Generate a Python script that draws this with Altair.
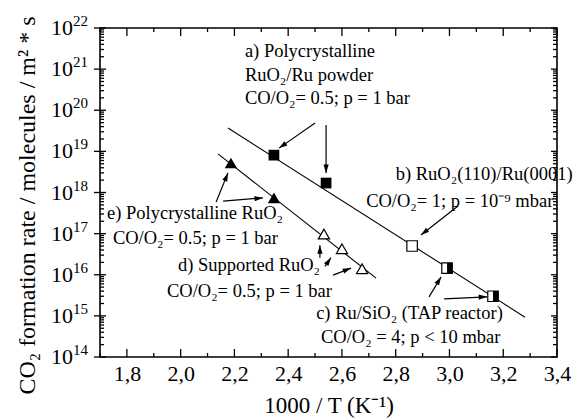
import math
import altair as alt
import pandas as pd

FONT = "'Times New Roman', 'Liberation Serif', Tinos, serif"
W, H = 457, 329
X_DOMAIN = [1.7, 3.4]
Y_DOMAIN = [1e14, 1e22]

# ---- data series ----
a_x = [2.347, 2.541]
a_y = [8.1e18, 1.7e18]
b_x = [2.861]
b_y = [5.0e16]
c_x = [2.991, 3.162]
c_y = [1.45e16, 3.0e15]
d_x = [2.533, 2.600, 2.675]
d_y = [9.8e16, 4.3e16, 1.4e16]
e_x = [2.187, 2.347]
e_y = [5.2e18, 7.4e17]

# fitted lines (end points)
line1_x = [2.176, 3.281]
line1_y = [3.7e19, 9.3e14]
line2_x = [2.139, 2.727]
line2_y = [8.7e18, 8.3e15]

# arrows: tail -> tip
arrow_x1 = [2.500, 2.541, 2.132, 2.158, 2.518, 2.537, 2.567, 3.032, 2.924, 2.980]
arrow_y1 = [4.9e19, 4.4e19, 5.9e17, 6.2e17, 2.6e16, 1.6e16, 9.8e15, 4.7e17, 2.9e15, 2.6e15]
arrow_x2 = [2.366, 2.541, 2.176, 2.306, 2.518, 2.559, 2.634, 2.894, 2.969, 3.140]
arrow_y2 = [1.2e19, 3.0e18, 3.0e18, 7.4e17, 5.2e16, 2.6e16, 1.45e16, 9.3e16, 8.9e15, 2.9e15]

# annotation texts (left-aligned, one entry per line)
ann_text = [
    "a) Polycrystalline", "RuO₂/Ru powder", "CO/O₂= 0.5; p = 1 bar",
    "b) RuO₂(110)/Ru(0001)", "CO/O₂= 1; p = 10⁻⁹ mbar",
    "e) Polycrystalline RuO₂", "CO/O₂= 0.5; p = 1 bar",
    "d) Supported RuO₂", "CO/O₂= 0.5; p = 1 bar",
    "c) Ru/SiO₂ (TAP reactor)", "CO/O₂ = 4; p < 10 mbar",
]
ann_x = [2.239, 2.239, 2.239, 2.800, 2.690, 1.726, 1.748, 1.990, 1.949, 2.504, 2.522]
ann_y = [10**21.44, 10**20.86, 10**20.30, 10**18.45, 10**17.80,
         10**17.50, 10**16.89, 10**16.24, 10**15.60, 10**15.07, 10**14.49]

# ticks
x_major = [1.8, 2.0, 2.2, 2.4, 2.6, 2.8, 3.0, 3.2, 3.4]
x_minor = [1.7, 1.9, 2.1, 2.3, 2.5, 2.7, 2.9, 3.1, 3.3]
y_exps = [14, 15, 16, 17, 18, 19, 20, 21, 22]
y_minor = [m * 10.0**e for e in range(14, 22) for m in range(2, 10)]

# ---- helpers ----
xs = alt.Scale(domain=X_DOMAIN, nice=False, zero=False)
ys = alt.Scale(type="log", domain=Y_DOMAIN, nice=False)


def X(f, **kw):
    return alt.X(f, type="quantitative", scale=xs, **kw)


def Y(f, **kw):
    return alt.Y(f, type="quantitative", scale=ys, **kw)


def px(x):
    return (x - X_DOMAIN[0]) / (X_DOMAIN[1] - X_DOMAIN[0]) * W


def py(y):
    return (math.log10(Y_DOMAIN[1]) - math.log10(y)) / 8.0 * H


# ---- tables ----
lines_df = pd.DataFrame({
    "s": ["1"] * len(line1_x) + ["2"] * len(line2_x),
    "x": line1_x + line2_x,
    "y": line1_y + line2_y,
})

angles = []
for x1, y1, x2, y2 in zip(arrow_x1, arrow_y1, arrow_x2, arrow_y2):
    dx = px(x2) - px(x1)
    dy = py(y2) - py(y1)
    angles.append(math.degrees(math.atan2(dx, -dy)) % 360)
arrows_df = pd.DataFrame({"x": arrow_x1, "y": arrow_y1, "x2": arrow_x2, "y2": arrow_y2, "angle": angles})

ann_df = pd.DataFrame({"t": ann_text, "x": ann_x, "y": ann_y})

# ---- layers ----
fit = alt.Chart(lines_df).mark_line(color="black", strokeWidth=1.1).encode(
    x=X("x", axis=alt.Axis(
        values=x_major, labelExpr="replace(format(datum.value, '.1f'), '.', ',')",
        ticks=False, domain=False, grid=False, labelFont=FONT, labelFontSize=22,
        labelColor="black", labelPadding=6, labelFlush=False,
        title="1000 / T (K⁻¹)", titleFont=FONT, titleFontSize=23, titleFontWeight="normal",
        titleColor="black", titleY=48, titleBaseline="middle")),
    y=Y("y", axis=alt.Axis(
        labels=False, ticks=False, domain=False, grid=False,
        title="CO₂ formation rate / molecules / m² * s", titleFont=FONT, titleFontSize=24,
        titleFontWeight="normal", titleColor="black", titleAngle=270, titleX=-73,
        titleY=177, titleAlign="center", titleBaseline="middle")),
    detail="s:N",
)

pa = alt.Chart(pd.DataFrame({"x": a_x, "y": a_y})).mark_point(
    shape="square", filled=True, color="black", size=115, opacity=1).encode(x=X("x"), y=Y("y"))
pb = alt.Chart(pd.DataFrame({"x": b_x + c_x, "y": b_y + c_y})).mark_point(
    shape="square", filled=True, fill="white", stroke="black", strokeWidth=1.2, size=110,
    opacity=1).encode(x=X("x"), y=Y("y"))
pc = alt.Chart(pd.DataFrame({"x": c_x, "y": c_y})).mark_point(
    shape="M0,-1L1,-1L1,1L0,1Z", filled=True, color="black", size=110, opacity=1).encode(
    x=X("x"), y=Y("y"))
pe = alt.Chart(pd.DataFrame({"x": e_x, "y": e_y})).mark_point(
    shape="triangle-up", filled=True, color="black", size=150, opacity=1).encode(x=X("x"), y=Y("y"))
pdd = alt.Chart(pd.DataFrame({"x": d_x, "y": d_y})).mark_point(
    shape="triangle-up", filled=True, fill="white", stroke="black", strokeWidth=1.2, size=125,
    opacity=1).encode(x=X("x"), y=Y("y"))

shafts = alt.Chart(arrows_df).mark_rule(color="black", strokeWidth=1.2).encode(
    x=X("x"), y=Y("y"), x2="x2", y2="y2")
heads = alt.Chart(arrows_df).mark_point(
    shape="M0,0L-0.5,1.6L0.5,1.6Z", filled=True, color="black", size=110, opacity=1).encode(
    x=X("x2"), y=Y("y2"), angle=alt.Angle("angle", type="quantitative", scale=None))

ann = alt.Chart(ann_df).mark_text(
    align="left", baseline="middle", font=FONT, fontSize=18.5, color="black").encode(
    x=X("x"), y=Y("y"), text="t:N")

# y tick labels 10^n
exp_df = pd.DataFrame({"e": y_exps, "v": [10.0**e for e in y_exps], "s": [str(e) for e in y_exps]})
ten = alt.Chart(exp_df).mark_text(
    align="right", baseline="middle", font=FONT, fontSize=22, color="black").encode(
    x=alt.value(-27), y=Y("v"), text=alt.value("10"))
sup = alt.Chart(exp_df).mark_text(
    align="left", baseline="middle", font=FONT, fontSize=15, color="black", dy=-7).encode(
    x=alt.value(-27), y=Y("v"), text="s:N")

# inward / outward tick marks on the frame
xmaj = pd.DataFrame({"x": x_major})
xmin = pd.DataFrame({"x": x_minor})
ymaj = pd.DataFrame({"y": [10.0**e for e in y_exps]})
ymin = pd.DataFrame({"y": y_minor})
tk = dict(color="black", strokeWidth=1.3)
ticks = [
    alt.Chart(xmaj).mark_rule(**tk).encode(x=X("x"), y=alt.value(H), y2=alt.value(H - 8)),
    alt.Chart(xmin).mark_rule(**tk).encode(x=X("x"), y=alt.value(H), y2=alt.value(H - 4)),
    alt.Chart(xmaj).mark_rule(**tk).encode(x=X("x"), y=alt.value(0), y2=alt.value(8)),
    alt.Chart(xmin).mark_rule(**tk).encode(x=X("x"), y=alt.value(0), y2=alt.value(4)),
    alt.Chart(ymaj).mark_rule(**tk).encode(y=Y("y"), x=alt.value(-6), x2=alt.value(6)),
    alt.Chart(ymin).mark_rule(**tk).encode(y=Y("y"), x=alt.value(0), x2=alt.value(4)),
    alt.Chart(ymaj).mark_rule(**tk).encode(y=Y("y"), x=alt.value(W - 6), x2=alt.value(W)),
    alt.Chart(ymin).mark_rule(**tk).encode(y=Y("y"), x=alt.value(W - 4), x2=alt.value(W)),
]

chart = alt.layer(
    fit, *ticks, shafts, heads, pa, pb, pc, pe, pdd, ann, ten, sup
).properties(
    width=W, height=H,
    autosize=alt.AutoSizeParams(type="none"),
    padding={"left": 100, "top": 28, "right": 16, "bottom": 62},
    background="white",
).configure_view(stroke="black", strokeWidth=1.6)

chart.save("out.html", embed_options={"renderer": "svg", "actions": False})
